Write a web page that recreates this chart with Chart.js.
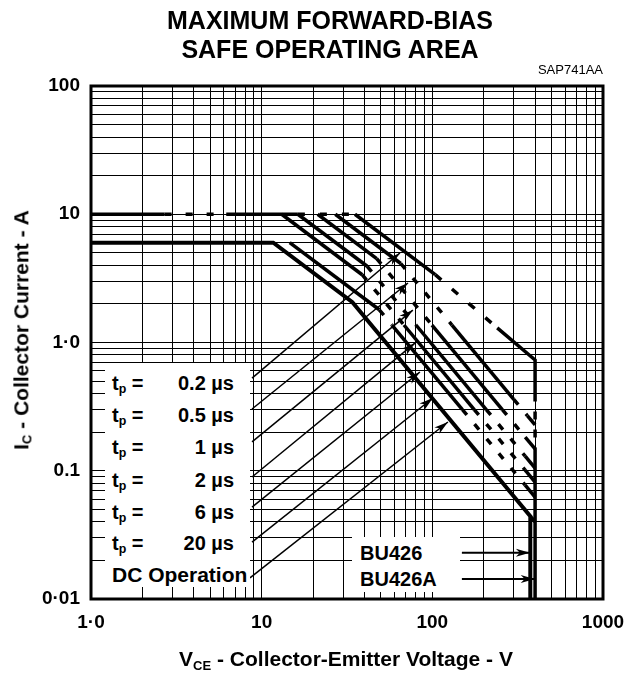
<!DOCTYPE html>
<html>
<head>
<meta charset="utf-8">
<script src="https://cdn.jsdelivr.net/npm/chart.js@4.4.0/dist/chart.umd.min.js"></script>
<style>
body { margin: 0; background: #fff; }
#wrap { position: relative; width: 629px; height: 675px; font-family: "Liberation Sans", Arial, sans-serif; color: #000; }
canvas { position: absolute; left: 0; top: 0; }
.t { position: absolute; font-weight: bold; white-space: nowrap; }
.t sub { font-size: 62%; vertical-align: -0.25em; }
#title { left: 30px; width: 600px; top: 6px; font-size: 25px; line-height: 29px; text-align: center; }
#code { right: 26px; top: 62px; font-size: 13px; font-weight: normal; }
#ytitle { left: 22px; top: 330px; font-size: 21px; transform: translate(-50%, -50%) rotate(-90deg); }
#xtitle { left: 346px; top: 660px; font-size: 21px; transform: translate(-50%, -50%); }
.box { position: absolute; background: #fff; }
.lg { font-size: 20px; line-height: 24px; }
.lv { text-align: right; width: 100px; left: 134px; }
</style>
</head>
<body>
<div id="wrap">
<canvas id="chart" width="629" height="675"></canvas>
<div class="t" id="title">MAXIMUM FORWARD-BIAS<br>SAFE OPERATING AREA</div>
<div class="t" id="code">SAP741AA</div>
<div class="t" id="ytitle">I<sub>C</sub> - Collector Current - A</div>
<div class="t" id="xtitle">V<sub>CE</sub> - Collector-Emitter Voltage - V</div>
<div class="box" style="left:105px;top:363px;width:145px;height:224px"></div>
<div class="box" style="left:352px;top:537px;width:108px;height:55px"></div>
<div id="legend"></div>
</div>
<script>
// axis ticks and labels
const xTickLabels = ['1·0', '10', '100', '1000']
const yTickLabels = ['0·01', '0.1', '1·0', '10', '100']
const legendNames = ['0.2 µs', '0.5 µs', '1 µs', '2 µs', '6 µs', '20 µs']

// V_CE (V) / I_C (A)
// 10 A pulse limit, partly dashed
const vLim10 = [1, 2.7]
const iLim10 = [10, 10]
const vLim10Gap = [2.7, 6.2]
const iLim10Gap = [10, 10]
const vLim10b = [6.2, 16.3]
const iLim10b = [10, 10]
const vLim10Gap2 = [16.3, 35.2]
const iLim10Gap2 = [10, 10]

// DC operation (6 A, 70 W, second breakdown, 375 V)
const vDC = [1, 11.7, 34, 375, 375]
const iDC = [6, 6, 2.06, 0.0443, 0.01]
const vDCA = [375, 400]
const iDCA = [0.0443, 0.04]

// pulse curves: power line, dashed knee, second breakdown, dashed, end at 400 V
const v20us = [14.6, 48.9]
const i20us = [6, 1.8]
const v20usKnee = [48.9, 58]
const i20usKnee = [1.8, 1.369]
const v20usSB = [58, 150]
const i20usSB = [1.369, 0.3]
const v20usGap = [150, 350]
const i20usGap = [0.3, 0.0773]
const v20usEnd = [350, 400]
const i20usEnd = [0.0773, 0.0624]

const v6us = [13.1, 38.8]
const i6us = [10, 3.376]
const v6usKnee = [38.8, 68.2]
const i6usKnee = [3.376, 1.369]
const v6usSB = [68.2, 176]
const i6usSB = [1.369, 0.3]
const v6usGap = [176, 350]
const i6usGap = [0.3, 0.101]
const v6usEnd = [350, 400]
const i6usEnd = [0.101, 0.0817]

const v2us = [16.3, 41.5]
const i2us = [10, 3.93]
const v2usKnee = [41.5, 80.2]
const i2usKnee = [3.93, 1.369]
const v2usSB = [80.2, 207]
const i2usSB = [1.369, 0.3]
const v2usGap = [207, 350]
const i2usGap = [0.3, 0.13]
const v2usEnd = [350, 400]
const i2usEnd = [0.13, 0.105]

const v1us = [21.3, 47.2]
const i1us = [10, 4.51]
const v1usKnee = [47.2, 99.5]
const i1usKnee = [4.51, 1.369]
const v1usSB = [99.5, 257]
const i1usSB = [1.369, 0.3]
const v1usGap = [257, 350]
const i1usGap = [0.3, 0.183]
const v1usEnd = [350, 400]
const i1usEnd = [0.183, 0.148]

const v05us = [27, 65.3]
const i05us = [10, 4.13]
const v05usKnee = [65.3, 130.3]
const i05usKnee = [4.13, 1.369]
const v05usSB = [130.3, 300]
const i05usSB = [1.369, 0.3605]
const v05usGap = [300, 360]
const i05usGap = [0.3605, 0.2693]
const v05usEnd = [360, 400]
const i05usEnd = [0.2693, 0.2274]

const v02us = [35.2, 104]
const i02us = [10, 3.38]
const v02usGap = [104, 240]
const i02usGap = [3.38, 1.3]
const v02usEnd = [240, 400, 400]
const i02usEnd = [1.3, 0.73, 0.4]

// 400 V edge (BU426A)
const vEdgeGap = [400, 400]
const iEdgeGap = [0.4, 0.148]
const vEdge = [400, 400]
const iEdge = [0.148, 0.01]

// legend arrows: label end -> curve
const vArrow = [[8.78, 64.6], [8.78, 72], [8.78, 76.9], [8.78, 79.1], [8.78, 84.6], [8.78, 100.8], [8.54, 123.4]]
const iArrow = [[0.528, 4.99], [0.303, 2.91], [0.168, 1.79], [0.0894, 0.99], [0.0521, 0.589], [0.0278, 0.369], [0.0146, 0.24]]
const vPart = [[149, 373], [149, 398]]
const iPart = [[0.0229, 0.0229], [0.0143, 0.0143]]

function pts(vs, is) {
    return vs.map((v, k) => ({x: v, y: is[k]}))
}

function curve(vs, is, dash, width) {
    return {
        data: pts(vs, is),
        showLine: true,
        borderColor: '#000',
        borderWidth: width || 3.5,
        borderDash: dash || [],
        pointRadius: 0,
        fill: false
    }
}

const gap = [7, 12]

// one pulse curve = five pieces, alternately solid and dashed
function pulse(pieces) {
    return pieces.map((p, k) => curve(p[0], p[1], k % 2 ? gap : []))
}

let datasets = [
    curve(vLim10, iLim10),
    curve(vLim10Gap, iLim10Gap, [7, 14]),
    curve(vLim10b, iLim10b),
    curve(vLim10Gap2, iLim10Gap2, [7, 15]),
    curve(vDC, iDC, [], 4),
    curve(vDCA, iDCA),
    ...pulse([[v20us, i20us], [v20usKnee, i20usKnee], [v20usSB, i20usSB], [v20usGap, i20usGap], [v20usEnd, i20usEnd]]),
    ...pulse([[v6us, i6us], [v6usKnee, i6usKnee], [v6usSB, i6usSB], [v6usGap, i6usGap], [v6usEnd, i6usEnd]]),
    ...pulse([[v2us, i2us], [v2usKnee, i2usKnee], [v2usSB, i2usSB], [v2usGap, i2usGap], [v2usEnd, i2usEnd]]),
    ...pulse([[v1us, i1us], [v1usKnee, i1usKnee], [v1usSB, i1usSB], [v1usGap, i1usGap], [v1usEnd, i1usEnd]]),
    ...pulse([[v05us, i05us], [v05usKnee, i05usKnee], [v05usSB, i05usSB], [v05usGap, i05usGap], [v05usEnd, i05usEnd]]),
    curve(v02us, i02us), curve(v02usGap, i02usGap, [8, 14]), curve(v02usEnd, i02usEnd),
    curve(vEdgeGap, iEdgeGap, [8, 10]),
    curve(vEdge, iEdge)
]
for (let k = 0; k < vArrow.length; k++) {
    let d = curve(vArrow[k], iArrow[k], [], 1.5)
    d.arrowHead = true
    datasets.push(d)
}
for (let k = 0; k < vPart.length; k++) {
    let d = curve(vPart[k], iPart[k], [], 2)
    d.arrowHead = true
    datasets.push(d)
}

function logTicks(lo, hi) {
    let out = []
    for (let e = lo; e < hi; e++) {
        for (let m = 1; m < 10; m++) out.push(parseFloat((m * Math.pow(10, e)).toPrecision(6)))
    }
    out.push(Math.pow(10, hi))
    return out
}

function decadeLabel(labels, first) {
    return value => {
        let l = Math.log10(value)
        let r = Math.round(l)
        if (Math.abs(l - r) > 1e-6) return ''
        return labels[r - first]
    }
}

const frame = {
    id: 'frame',
    beforeDatasetsDraw(chart) {
        let a = chart.chartArea
        let ctx = chart.ctx
        ctx.save()
        ctx.strokeStyle = '#000'
        ctx.lineWidth = 3
        ctx.strokeRect(a.left, a.top, a.right - a.left, a.bottom - a.top)
        ctx.restore()
    },
    afterDatasetsDraw(chart) {
        let ctx = chart.ctx
        chart.data.datasets.forEach((ds, k) => {
            if (!ds.arrowHead) return
            let pts = chart.getDatasetMeta(k).data
            let p1 = pts[pts.length - 2]
            let p2 = pts[pts.length - 1]
            let ang = Math.atan2(p2.y - p1.y, p2.x - p1.x)
            ctx.save()
            ctx.translate(p2.x, p2.y)
            ctx.rotate(ang)
            ctx.fillStyle = '#000'
            ctx.beginPath()
            ctx.moveTo(0, 0)
            ctx.lineTo(-14, -4)
            ctx.lineTo(-10, 0)
            ctx.lineTo(-14, 4)
            ctx.closePath()
            ctx.fill()
            ctx.restore()
        })
    }
}

const tickFont = {family: '"Liberation Sans", Arial, sans-serif', weight: 'bold', size: 19}

new Chart(document.getElementById('chart'), {
    type: 'scatter',
    data: {datasets: datasets},
    options: {
        responsive: false,
        animation: false,
        layout: {padding: {top: 86, right: 26, left: 0, bottom: 0}},
        plugins: {legend: {display: false}, tooltip: {enabled: false}},
        scales: {
            x: {
                type: 'logarithmic',
                min: 1,
                max: 1000,
                afterBuildTicks: s => { s.ticks = logTicks(0, 3).map(v => ({value: v})) },
                afterFit: s => { s.height = 76; s.paddingLeft = 0; s.paddingRight = 0 },
                ticks: {autoSkip: false, maxRotation: 0, padding: 12, color: '#000', font: tickFont,
                    callback: decadeLabel(xTickLabels, 0)},
                grid: {color: '#000', lineWidth: 1, drawTicks: false},
                border: {display: false}
            },
            y: {
                type: 'logarithmic',
                min: 0.01,
                max: 100,
                afterBuildTicks: s => { s.ticks = logTicks(-2, 2).map(v => ({value: v})) },
                afterFit: s => { s.width = 91; s.paddingTop = 0; s.paddingBottom = 0 },
                ticks: {autoSkip: false, padding: 11, color: '#000', font: tickFont,
                    callback: decadeLabel(yTickLabels, -2)},
                grid: {color: '#000', lineWidth: 1, drawTicks: false},
                border: {display: false}
            }
        }
    },
    plugins: [frame]
})

// legend text inside the white boxes
let legend = document.getElementById('legend')
let rowTop = [371, 403, 435, 468, 500, 531]
legendNames.forEach((name, k) => {
    legend.insertAdjacentHTML('beforeend',
        `<div class="t lg" style="left:112px;top:${rowTop[k]}px">t<sub>p</sub> =</div>` +
        `<div class="t lg lv" style="top:${rowTop[k]}px">${name}</div>`)
})
legend.insertAdjacentHTML('beforeend', '<div class="t lg" style="left:112px;top:563px;font-size:21px">DC Operation</div>')
legend.insertAdjacentHTML('beforeend', '<div class="t lg" style="left:360px;top:541px">BU426</div>')
legend.insertAdjacentHTML('beforeend', '<div class="t lg" style="left:360px;top:567px">BU426A</div>')
</script>
</body>
</html>
